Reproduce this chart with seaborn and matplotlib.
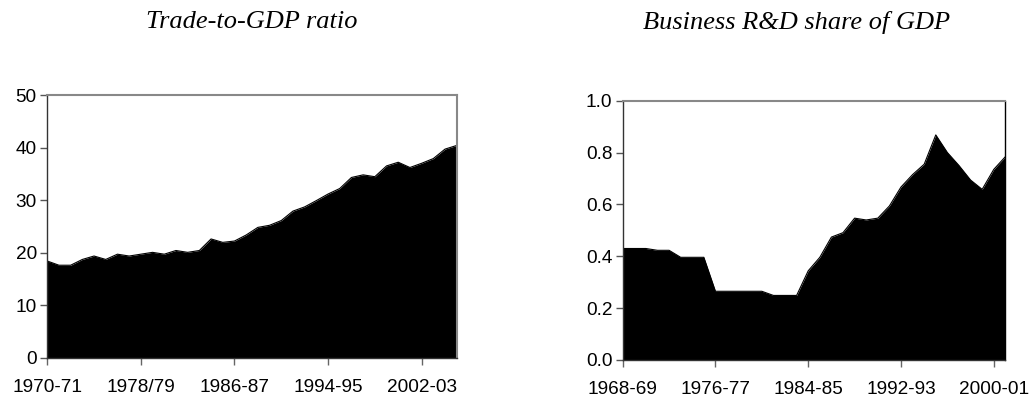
import matplotlib
matplotlib.use("Agg")
import matplotlib.pyplot as plt
import seaborn as sns
import pandas as pd

# ---- data ----
trade_years = list(range(1970, 2006))  # start year of each financial year, 1970-71 .. 2005-06
trade_ratio = [18.4, 17.6, 17.6, 18.7, 19.35, 18.7, 19.7, 19.35, 19.7, 20.05,
               19.7, 20.4, 20.05, 20.4, 22.6, 21.95, 22.2, 23.35, 24.8, 25.2,
               26.1, 27.9, 28.7, 29.9, 31.15, 32.2, 34.3, 34.8, 34.45, 36.5,
               37.2, 36.2, 37.0, 37.9, 39.7, 40.4]
trade_ticks = ["1970-71", "1978/79", "1986-87", "1994-95", "2002-03"]
trade_tick_years = [1970, 1978, 1986, 1994, 2002]

rd_years = list(range(1968, 2002))  # 1968-69 .. 2001-02
rd_share = [0.43, 0.43, 0.43, 0.423, 0.423, 0.396, 0.396, 0.396, 0.265, 0.265,
            0.265, 0.265, 0.265, 0.249, 0.249, 0.249, 0.344, 0.396, 0.474, 0.491,
            0.547, 0.54, 0.547, 0.594, 0.667, 0.715, 0.755, 0.868, 0.80, 0.75,
            0.694, 0.658, 0.735, 0.784]
rd_ticks = ["1968-69", "1976-77", "1984-85", "1992-93", "2000-01"]
rd_tick_years = [1968, 1976, 1984, 1992, 2000]

titles = ["Trade-to-GDP ratio", "Business R&D share of GDP"]

# ---- style ----
sns.set_theme(style="white")
plt.rcParams["font.family"] = ["Liberation Sans", "DejaVu Sans"]

fig = plt.figure(figsize=(10.34, 4.0), dpi=100)
ax1 = fig.add_axes([0.0457, 0.1058, 0.3960, 0.6567])
ax2 = fig.add_axes([0.6022, 0.1000, 0.3701, 0.6483])

df1 = pd.DataFrame({"year": trade_years, "value": trade_ratio})
df2 = pd.DataFrame({"year": rd_years, "value": rd_share})


def draw(ax, df, ymax, ystep, fmt, tick_years, tick_labels, right_color):
    sns.lineplot(data=df, x="year", y="value", ax=ax, color="black", linewidth=0.8)
    ax.fill_between(df["year"], 0, df["value"], color="black", linewidth=0)
    ax.set_xlim(df["year"].iloc[0], df["year"].iloc[-1])
    ax.set_ylim(0, ymax)
    yt = [i * ystep for i in range(int(round(ymax / ystep)) + 1)]
    ax.set_yticks(yt)
    ax.set_yticklabels([fmt.format(v) for v in yt])
    ax.set_xticks(tick_years)
    ax.set_xticklabels(tick_labels)
    ax.set_xlabel("")
    ax.set_ylabel("")
    ax.tick_params(axis="both", which="major", direction="out", length=5,
                   width=1, labelsize=13.7, colors="black",
                   left=True, bottom=True)
    ax.tick_params(axis="x", color="#666666", pad=10)
    ax.tick_params(axis="y", color="#555555", pad=2.5)
    for side in ["left", "bottom"]:
        ax.spines[side].set_color("#333333")
        ax.spines[side].set_linewidth(1.0)
    ax.spines["top"].set_color("#888888")
    ax.spines["top"].set_linewidth(1.5)
    ax.spines["right"].set_color(right_color)
    ax.spines["right"].set_linewidth(1.5 if right_color != "black" else 1.0)
    ax.grid(False)


draw(ax1, df1, 50, 10, "{:.0f}", trade_tick_years, trade_ticks, "#888888")
draw(ax2, df2, 1.0, 0.2, "{:.1f}", rd_tick_years, rd_ticks, "black")

title_font = dict(family=["Liberation Serif", "DejaVu Serif"], style="italic",
                  size=19, color="black")
fig.text(0.2437, 0.945, titles[0], ha="center", va="center", **title_font)
fig.text(0.770, 0.945, titles[1], ha="center", va="center", **title_font)

fig.savefig("out.png", dpi=100, facecolor="white")
